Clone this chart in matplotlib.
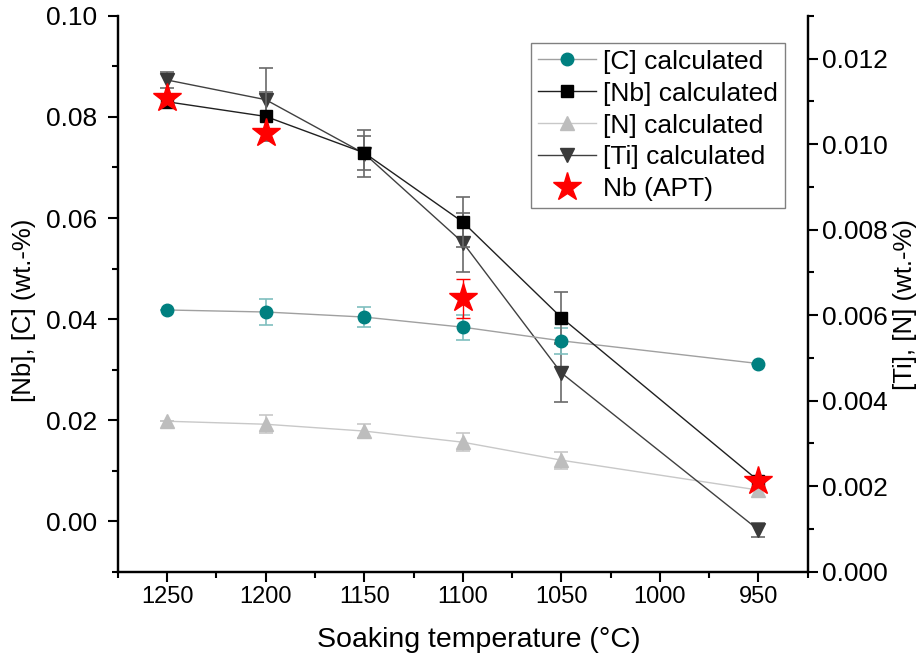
import numpy as np
import matplotlib.pyplot as plt
from matplotlib.ticker import MultipleLocator
from matplotlib.lines import Line2D

plt.rcParams['font.family'] = ['Liberation Sans', 'DejaVu Sans']

# Données
temp = [1250, 1200, 1150, 1100, 1050, 950]

c_val = [0.0418, 0.0414, 0.0404, 0.0384, 0.0357, 0.0312]
c_err = [0.0, 0.0026, 0.0019, 0.0025, 0.0026, 0.0]

nb_val = [0.0830, 0.0801, 0.0729, 0.0592, 0.0403, 0.0080]
nb_err = [0.0012, 0.0048, 0.0034, 0.0050, 0.0050, 0.0]

n_val = [0.00352, 0.00345, 0.00329, 0.00303, 0.00261, 0.00191]
n_err = [0.0, 0.00021, 0.00016, 0.00021, 0.00020, 0.0]

ti_val = [0.01150, 0.01104, 0.00978, 0.00770, 0.00465, 0.00098]
ti_err = [0.00019, 0.00073, 0.00054, 0.00069, 0.00068, 0.00016]

apt_temp = [1250, 1200, 1100, 950]
apt_val = [0.0838, 0.0769, 0.0441, 0.0080]
apt_err = [0.0, 0.0, 0.0038, 0.0]

# styles : (couleur ligne, marqueur, taille, couleur marqueur, couleur barres)
st_c = ('#a0a0a0', 'o', 9, '#008080', '#7fbfbf')
st_nb = ('#202020', 's', 8, 'black', '#6a6a6a')
st_n = ('#c8c8c8', '^', 10, '#bdbdbd', '#c8c8c8')
st_ti = ('#404040', 'v', 10, '#3a3a3a', '#6a6a6a')

fig = plt.figure(figsize=(9.21, 6.61), dpi=100)
ax = fig.add_axes([0.128, 0.135, 0.749, 0.841])
ax2 = ax.twinx()

def serie(a, y, e, st, z):
    a.errorbar(temp, y, yerr=e, color=st[0], lw=1, marker=st[1], ms=st[2],
               mfc=st[3], mec=st[3], ecolor=st[4], elinewidth=1.2,
               capsize=5, capthick=1.2, zorder=z)

# axe gauche : Nb, C  / axe droit : Ti, N
serie(ax, c_val, c_err, st_c, 3)
serie(ax, nb_val, nb_err, st_nb, 3)
serie(ax2, n_val, n_err, st_n, 3)
serie(ax2, ti_val, ti_err, st_ti, 4)

ax.errorbar(apt_temp, apt_val, yerr=apt_err, fmt='*', ms=21,
            color='red', mec='red', ecolor='red', elinewidth=1,
            capsize=5, capthick=1, zorder=5)

# APT au-dessus de ax2
ax.set_zorder(ax2.get_zorder() + 1)
ax.patch.set_visible(False)

ax.set_xlim(1275, 925)
ax.set_ylim(-0.01, 0.10)
ax2.set_ylim(0.0, 0.013)

ax.xaxis.set_major_locator(MultipleLocator(50))
ax.xaxis.set_minor_locator(MultipleLocator(25))
ax.yaxis.set_major_locator(MultipleLocator(0.02))
ax.yaxis.set_minor_locator(MultipleLocator(0.01))
ax2.yaxis.set_major_locator(MultipleLocator(0.002))
ax2.yaxis.set_minor_locator(MultipleLocator(0.001))
ax.yaxis.set_major_formatter(plt.FormatStrFormatter('%.2f'))
ax2.yaxis.set_major_formatter(plt.FormatStrFormatter('%.3f'))

for a in (ax, ax2):
    a.tick_params(which='major', direction='out', length=7, width=1.5, labelsize=19)
    a.tick_params(which='minor', direction='out', length=4, width=1.5)
    a.spines['top'].set_visible(False)
    for s in a.spines.values():
        s.set_linewidth(1.6)
ax.tick_params(axis='x', labelsize=17)
ax.tick_params(axis='y', which='major', pad=8)

ax.set_xlabel('Soaking temperature (°C)', fontsize=20.5)
ax.xaxis.set_label_coords(0.523, -0.1)
ax.set_ylabel('[Nb], [C] (wt.-%)', fontsize=18.5)
ax.yaxis.set_label_coords(-0.119, 0.47)
ax2.set_ylabel('[Ti], [N] (wt.-%)', fontsize=18.5)
ax2.yaxis.set_label_coords(1.124, 0.48)

handles = []
for st in (st_c, st_nb, st_n, st_ti):
    handles.append(Line2D([], [], color=st[0], lw=1, marker=st[1], ms=st[2],
                          mfc=st[3], mec=st[3]))
handles.append(Line2D([], [], ls='none', marker='*', ms=21, color='red'))
labels = ['[C] calculated', '[Nb] calculated', '[N] calculated',
          '[Ti] calculated', 'Nb (APT)']

leg = ax.legend(handles, labels, loc='upper right', bbox_to_anchor=(0.967, 0.951),
                fontsize=19, frameon=True, fancybox=False, framealpha=1,
                edgecolor='#808080', handlelength=2.2, labelspacing=0.3,
                borderpad=0.25, handletextpad=0.3, borderaxespad=0)
leg.get_frame().set_linewidth(1)

fig.savefig('out.png', dpi=100)
